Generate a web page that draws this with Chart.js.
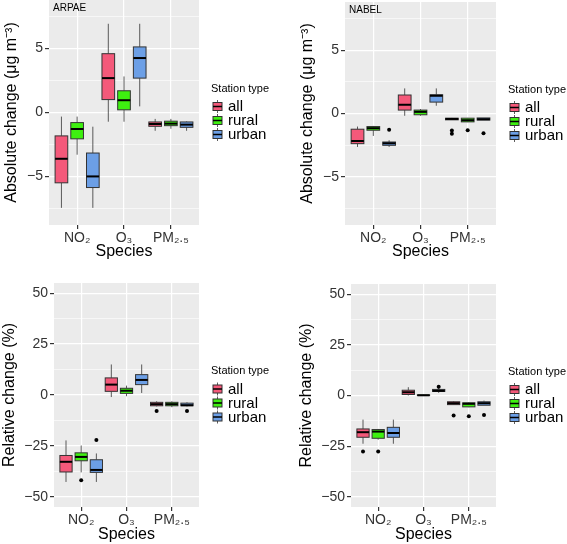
<!DOCTYPE html>
<html>
<head>
<meta charset="utf-8">
<script src="https://cdn.jsdelivr.net/npm/chart.js@4.4.1/dist/chart.umd.min.js"></script>
<style>
  body{ margin:0; background:#fff; }
  #wrap{ position:relative; width:567px; height:544px; }
  .pane{ position:absolute; }
</style>
</head>
<body>
<div id="wrap">
  <div class="pane" style="left:0;top:0"><canvas id="c1" width="283" height="270"></canvas></div>
  <div class="pane" style="left:283px;top:0"><canvas id="c2" width="284" height="270"></canvas></div>
  <div class="pane" style="left:0;top:270px"><canvas id="c3" width="283" height="274"></canvas></div>
  <div class="pane" style="left:283px;top:270px"><canvas id="c4" width="284" height="274"></canvas></div>
</div>
<script>
//categories and groups
var species = ["NO\u2082", "O\u2083", "PM\u2082.\u2085"];
var stationTypes = ["all", "rural", "urban"];
var stationColors = ["#F4597A", "#3EF010", "#6C9FE6"];

//tick labels
var absTicks = [-5, 0, 5];
var absMinor = [-7.5, -2.5, 2.5, 7.5];
var relTicks = [-50, -25, 0, 25, 50];
var relMinor = [-37.5, -12.5, 12.5, 37.5];

//box stats per species: [lower whisker, q1, median, q3, upper whisker]
//ARPAE absolute change
var arpaeAbsAll   = [[-7.46, -5.5, -3.62, -1.83, -0.32], [-0.72, 1.01, 2.69, 4.6, 6.94], [-1.43, -1.08, -0.9, -0.74, -0.5]];
var arpaeAbsRural = [[-3.3, -2.06, -1.29, -0.79, -0.32], [-0.72, 0.21, 0.96, 1.7, 2.82], [-1.27, -1.03, -0.87, -0.68, -0.5]];
var arpaeAbsUrban = [[-7.46, -5.87, -5.0, -3.17, -1.11], [0.48, 2.69, 4.26, 5.13, 6.94], [-1.43, -1.16, -0.95, -0.74, -0.7]];
var arpaeAbsOut   = []; //[species, type, value]

//NABEL absolute change
var nabelAbsAll   = [[-2.64, -2.38, -2.17, -1.24, -1.03], [-0.18, 0.27, 0.69, 1.46, 1.98], [-0.5, -0.5, -0.43, -0.37, -0.35]];
var nabelAbsRural = [[-1.77, -1.32, -1.16, -1.03, -0.98], [-0.18, -0.1, 0.13, 0.27, 0.35], [-0.68, -0.66, -0.53, -0.37, -0.35]];
var nabelAbsUrban = [[-2.64, -2.51, -2.35, -2.25, -2.11], [0.61, 0.9, 1.4, 1.48, 1.98], [-0.52, -0.52, -0.45, -0.35, -0.35]];
var nabelAbsOut   = [[0, 2, -1.29], [2, 0, -1.35], [2, 0, -1.6], [2, 1, -1.32], [2, 2, -1.56]];

//ARPAE relative change
var arpaeRelAll   = [[-42.7, -37.8, -32.8, -29.7, -22.3], [-1.0, 1.8, 5.1, 8.4, 15.0], [-5.6, -5.3, -4.5, -3.6, -3.1]];
var arpaeRelRural = [[-38.0, -32.3, -30.4, -28.4, -24.8], [-0.6, 0.8, 2.1, 3.3, 4.6], [-6.0, -5.3, -4.5, -3.6, -3.1]];
var arpaeRelUrban = [[-42.7, -38.0, -36.8, -31.8, -28.7], [1.0, 5.1, 7.4, 10.0, 15.0], [-5.6, -5.3, -5.0, -4.0, -3.6]];
var arpaeRelOut   = [[0, 1, -41.9], [0, 2, -22.1], [2, 0, -7.8], [2, 2, -7.8]];

//NABEL relative change
var nabelRelAll   = [[-23.8, -20.6, -18.1, -16.5, -11.9], [0.0, 0.5, 1.6, 2.6, 4.1], [-4.6, -4.5, -3.8, -3.1, -2.8]];
var nabelRelRural = [[-21.8, -21.1, -17.8, -16.8, -16.5], [-0.1, 0.0, 0.1, 0.3, 0.4], [-5.8, -5.6, -4.1, -3.6, -3.3]];
var nabelRelUrban = [[-23.8, -20.6, -18.5, -15.7, -11.9], [1.3, 2.0, 2.3, 3.0, 3.8], [-4.8, -4.8, -3.8, -3.1, -2.5]];
var nabelRelOut   = [[0, 0, -27.6], [0, 1, -27.6], [1, 2, 4.3], [2, 0, -9.9], [2, 1, -10.2], [2, 2, -9.6]];

var FONT = "'Liberation Sans', Arial, sans-serif";
var groupOffset = [-0.335, 0, 0.335];
var boxWidth = 0.27;

//draws the grey panel, boxes, panel tag and legend
makeBoxPlugin = function( groups, tag ){
    return {
        id: 'boxes',
        beforeDraw: function(chart){
            var a = chart.chartArea, ctx = chart.ctx;
            ctx.save();
            ctx.fillStyle = "#EBEBEB";
            ctx.fillRect( a.left, a.top, a.right - a.left, a.bottom - a.top );
            ctx.restore();
        },
        beforeDatasetsDraw: function(chart){
            var ctx = chart.ctx, x = chart.scales.x, y = chart.scales.y;
            ctx.save();
            for( var g = 0; g < groups.length; g++ ){
                for( var s = 0; s < groups[g].length; s++ ){
                    var st = groups[g][s];
                    var cx = s + 1 + groupOffset[g];
                    var xl = x.getPixelForValue( cx - boxWidth/2 ),
                        xr = x.getPixelForValue( cx + boxWidth/2 ),
                        xc = x.getPixelForValue( cx );
                    var p = st.map( function(v){ return y.getPixelForValue(v); } );

                    //whiskers
                    ctx.strokeStyle = "#333333";
                    ctx.lineWidth = 0.8;
                    ctx.beginPath();
                    ctx.moveTo( xc, p[4] ); ctx.lineTo( xc, p[3] );
                    ctx.moveTo( xc, p[1] ); ctx.lineTo( xc, p[0] );
                    ctx.stroke();

                    //box
                    ctx.fillStyle = stationColors[g];
                    ctx.fillRect( xl, p[3], xr - xl, p[1] - p[3] );
                    ctx.lineWidth = 1;
                    ctx.strokeRect( xl, p[3], xr - xl, p[1] - p[3] );

                    //median
                    ctx.strokeStyle = "#000";
                    ctx.lineWidth = 2;
                    ctx.beginPath();
                    ctx.moveTo( xl, p[2] ); ctx.lineTo( xr, p[2] );
                    ctx.stroke();
                }
            }
            ctx.restore();
        },
        afterDraw: function(chart){
            var ctx = chart.ctx, a = chart.chartArea;
            ctx.save();

            //panel tag
            if( tag ){
                ctx.fillStyle = "#000";
                ctx.font = "10px " + FONT;
                ctx.textBaseline = "middle";
                ctx.textAlign = "left";
                ctx.fillText( tag, a.left + 4, a.top + 8 );
            }

            //legend
            var lx = a.right + 12, mid = (a.top + a.bottom) / 2;
            ctx.fillStyle = "#000";
            ctx.font = "11px " + FONT;
            ctx.textBaseline = "middle";
            ctx.textAlign = "left";
            ctx.fillText( "Station type", lx, mid - 24 );
            for( var i = 0; i < stationTypes.length; i++ ){
                var ry = mid - 6 + i * 14, kx = lx + 6.5;
                ctx.strokeStyle = "#333333";
                ctx.lineWidth = 0.8;
                ctx.beginPath();
                ctx.moveTo( kx, ry - 6.5 ); ctx.lineTo( kx, ry + 6.5 );
                ctx.stroke();
                ctx.fillStyle = stationColors[i];
                ctx.fillRect( kx - 4.5, ry - 4, 9, 8 );
                ctx.lineWidth = 1;
                ctx.strokeRect( kx - 4.5, ry - 4, 9, 8 );
                ctx.strokeStyle = "#000";
                ctx.lineWidth = 1.5;
                ctx.beginPath();
                ctx.moveTo( kx - 4.5, ry ); ctx.lineTo( kx + 4.5, ry );
                ctx.stroke();
                ctx.fillStyle = "#000";
                ctx.font = "15px " + FONT;
                ctx.fillText( stationTypes[i], lx + 17, ry + 0.5 );
            }
            ctx.restore();
        }
    };
}

//build one panel
makePanel = function( id, groups, outliers, p ){
    var pts = outliers.map( function(o){ return { x: o[0] + 1 + groupOffset[o[1]], y: o[2] }; } );
    var major = p.ticks, grid = p.ticks.concat( p.minor ).sort( function(a, b){ return a - b; } );
    var isMajor = function(c){ return c.tick && major.indexOf( c.tick.value ) >= 0; };

    new Chart( document.getElementById(id).getContext('2d'), {
        type: 'scatter',
        data: {
            datasets: [{
                data: pts,
                pointRadius: 2,
                pointHoverRadius: 2,
                backgroundColor: "#000",
                borderWidth: 0
            }]
        },
        options: {
            responsive: false,
            animation: false,
            events: [],
            layout: { padding: { left: 0, right: p.padRight, top: p.padTop, bottom: 0 } },
            plugins: { legend: { display: false }, tooltip: { enabled: false } },
            scales: {
                x: {
                    type: 'linear',
                    min: 0.4,
                    max: 3.6,
                    afterBuildTicks: function(s){ s.ticks = species.map( function(_, i){ return { value: i + 1 }; } ); },
                    afterFit: function(s){ s.height = p.xAxisH; s.paddingLeft = 0; s.paddingRight = 0; },
                    border: { display: false },
                    grid: { color: "#FFFFFF", lineWidth: 1.2, tickColor: "#333333", tickLength: 4 },
                    ticks: {
                        autoSkip: false, maxRotation: 0, padding: 1,
                        color: "#333333", font: { family: FONT, size: 14 },
                        callback: function(v){ return species[Math.round(v) - 1]; }
                    },
                    title: {
                        display: true, text: "Species", color: "#000",
                        font: { family: FONT, size: 16, lineHeight: 1 },
                        padding: { top: 0, bottom: p.xTitlePad }
                    }
                },
                y: {
                    min: p.min,
                    max: p.max,
                    afterBuildTicks: function(s){ s.ticks = grid.map( function(v){ return { value: v }; } ); },
                    afterFit: function(s){ s.width = p.yAxisW; s.paddingTop = 0; s.paddingBottom = 0; },
                    border: { display: false },
                    grid: {
                        color: "#FFFFFF",
                        lineWidth: function(c){ return isMajor(c) ? 1.2 : 0.6; },
                        tickColor: function(c){ return isMajor(c) ? "#333333" : "rgba(0,0,0,0)"; },
                        tickLength: 4
                    },
                    ticks: {
                        autoSkip: false, padding: 2,
                        color: "#333333", font: { family: FONT, size: 14 },
                        callback: function(v){ return major.indexOf(v) >= 0 ? String(v).replace("-", "\u2212") : ""; }
                    },
                    title: {
                        display: true, text: p.yTitle, color: "#000",
                        font: { family: FONT, size: 16, lineHeight: 1 },
                        padding: { top: p.yTitlePad, bottom: 0 }
                    }
                }
            }
        },
        plugins: [ makeBoxPlugin( groups, p.tag ) ]
    });
}

var absTitle = "Absolute change (\u03BCg m\u207B\u00B3)";
var relTitle = "Relative change (%)";

makePanel( "c1", [arpaeAbsAll, arpaeAbsRural, arpaeAbsUrban], arpaeAbsOut,
    { ticks: absTicks, minor: absMinor, min: -8.8, max: 8.8, yTitle: absTitle, tag: "ARPAE",
      yAxisW: 49, xAxisH: 45, padTop: 0, padRight: 84, yTitlePad: 4, xTitlePad: 10 } );
makePanel( "c2", [nabelAbsAll, nabelAbsRural, nabelAbsUrban], nabelAbsOut,
    { ticks: absTicks, minor: absMinor, min: -8.8, max: 8.8, yTitle: absTitle, tag: "NABEL",
      yAxisW: 62, xAxisH: 45, padTop: 0, padRight: 71, yTitlePad: 17, xTitlePad: 10 } );
makePanel( "c3", [arpaeRelAll, arpaeRelRural, arpaeRelUrban], arpaeRelOut,
    { ticks: relTicks, minor: relMinor, min: -55, max: 55, yTitle: relTitle, tag: "",
      yAxisW: 54, xAxisH: 37, padTop: 13, padRight: 84, yTitlePad: 2, xTitlePad: 1 } );
makePanel( "c4", [nabelRelAll, nabelRelRural, nabelRelUrban], nabelRelOut,
    { ticks: relTicks, minor: relMinor, min: -55, max: 55, yTitle: relTitle, tag: "",
      yAxisW: 68, xAxisH: 37, padTop: 14, padRight: 71, yTitlePad: 16, xTitlePad: 1 } );
</script>
</body>
</html>
